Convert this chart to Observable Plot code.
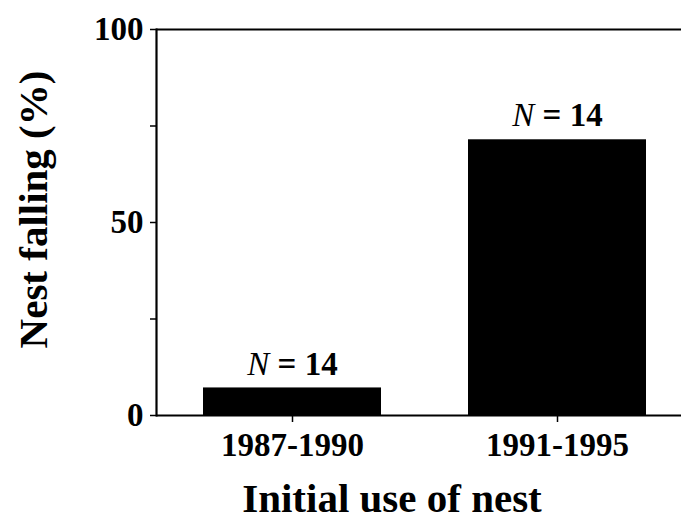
<!DOCTYPE html>
<html>
<head>
<meta charset="utf-8">
<script src="https://cdn.jsdelivr.net/npm/d3@7"></script>
<script src="https://cdn.jsdelivr.net/npm/@observablehq/plot@0.6"></script>
<style>
  html, body { margin: 0; padding: 0; background: #fff; }
  #chart svg { display: block; }
</style>
</head>
<body>
<div id="chart"></div>
<script>
const categories = ["1987-1990", "1991-1995"];
const values = [7.14, 71.43];
const sampleSizes = [14, 14];
const yTicks = [0, 50, 100];
const yMinorTicks = [25, 75];

const data = categories.map((c, i) => ({cat: c, value: values[i], n: sampleSizes[i]}));

const font = "'Liberation Serif', serif";

const chart = Plot.plot({
  width: 681,
  height: 529,
  marginLeft: 156,
  marginRight: 0,
  marginTop: 29,
  marginBottom: 114,
  style: {fontFamily: font, color: "#000", background: "#fff", overflow: "visible"},
  x: {domain: categories, range: [156, 692], paddingInner: 0.33, paddingOuter: 0.173, label: null},
  y: {domain: [0, 100], label: null},
  marks: [
    Plot.barY(data, {x: "cat", y: "value", fill: "#000"}),
    Plot.ruleY([100], {stroke: "#000", strokeWidth: 2.2}),
    Plot.ruleY([0], {stroke: "#000", strokeWidth: 2.2}),
    Plot.frame({anchor: "left", stroke: "#000", strokeWidth: 2.2}),
    Plot.axisY({ticks: yTicks, tickSize: 6, tickPadding: 7, tickFormat: d => String(d), fontSize: 33, fontWeight: "bold", strokeWidth: 1.5, label: null}),
    Plot.axisY({ticks: yMinorTicks, tickSize: 6, tickFormat: () => "", strokeWidth: 1.5, label: null}),
    Plot.axisX({tickSize: 7, tickPadding: 10, fontSize: 33, fontWeight: "bold", strokeWidth: 1.5, label: null}),
    Plot.text(data, {
      x: "cat", y: "value", dy: -24,
      text: d => "N = " + d.n,
      fontSize: 33, fontWeight: "bold", fill: "#000"
    }),
    Plot.text(["Nest falling (%)"], {
      frameAnchor: "left", dx: -123, dy: -13, rotate: -90, textAnchor: "middle",
      fontSize: 41, fontWeight: "bold", fill: "#000"
    }),
    Plot.text(["Initial use of nest"], {
      frameAnchor: "bottom", dy: 96, dx: -27,
      fontSize: 41, fontWeight: "bold", fill: "#000"
    })
  ]
});

// italicize the N in the annotations
d3.select(chart).selectAll("text").each(function() {
  const t = this.textContent;
  if (/^N = \d+$/.test(t)) {
    const el = d3.select(this);
    const num = t.replace(/^N = /, "");
    el.text(null);
    el.append("tspan").attr("font-style", "italic").attr("font-weight", "normal").text("N");
    el.append("tspan").text(" = " + num);
  }
});

document.getElementById("chart").appendChild(chart);
</script>
</body>
</html>
